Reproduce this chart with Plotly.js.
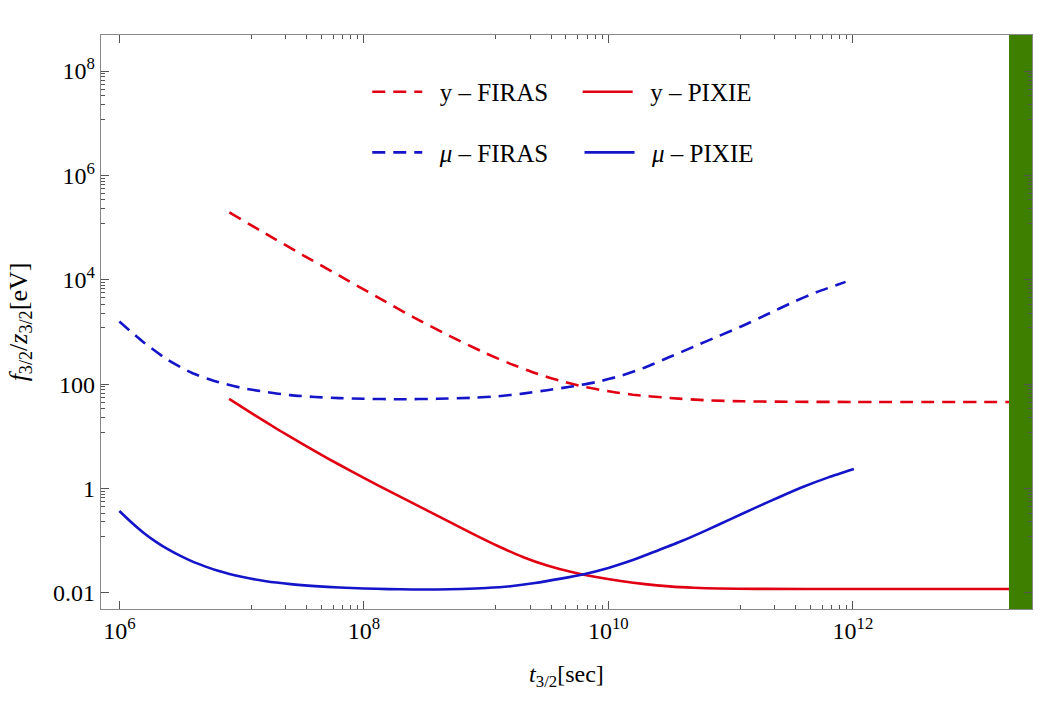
<!DOCTYPE html>
<html><head><meta charset="utf-8">
<script src="https://cdn.plot.ly/plotly-3.0.1.min.js"></script>
<style>body{margin:0;background:#fff}</style>
</head><body><div id="chart" style="width:1041px;height:706px"></div>
<script>
// Values, stored as log10 exponents (t in sec, f/z in eV)
const muFirasLogT = [6.0, 6.2, 6.4, 6.6, 6.8, 7.0, 7.2, 7.4, 7.6, 7.8, 8.0, 8.3, 8.6, 8.9, 9.1, 9.3, 9.5, 9.7, 9.9, 10.1, 10.3, 10.5, 10.7, 10.9, 11.1, 11.3, 11.5, 11.7, 11.94];
const muFirasLogF = [3.20, 2.80, 2.46, 2.21, 2.045, 1.93, 1.85, 1.79, 1.755, 1.733, 1.72, 1.712, 1.72, 1.74, 1.77, 1.82, 1.885, 1.955, 2.04, 2.16, 2.32, 2.52, 2.72, 2.92, 3.12, 3.34, 3.56, 3.76, 3.96];

const yFirasLogT = [6.9, 7.2, 7.5, 7.8, 8.1, 8.4, 8.7, 9.0, 9.2, 9.4, 9.6, 9.8, 10.0, 10.2, 10.5, 10.8, 11.1, 11.5, 12.0, 13.277];
const yFirasLogF = [5.29, 4.88, 4.475, 4.078, 3.682, 3.29, 2.925, 2.59, 2.39, 2.215, 2.069, 1.952, 1.864, 1.799, 1.736, 1.692, 1.672, 1.663, 1.66, 1.66];

const yPixieLogT = [6.898, 7.1, 7.3, 7.5, 7.7, 7.9, 8.1, 8.3, 8.5, 8.7, 8.9, 9.1, 9.3, 9.5, 9.7, 9.9, 10.1, 10.3, 10.5, 10.7, 10.9, 11.2, 12.0, 13.277];
const yPixieLogF = [1.72, 1.417, 1.127, 0.851, 0.585, 0.329, 0.081, -0.159, -0.397, -0.637, -0.877, -1.105, -1.31, -1.475, -1.60, -1.695, -1.77, -1.83, -1.873, -1.90, -1.915, -1.921, -1.923, -1.923];

const muPixieLogT = [6.0, 6.1, 6.2, 6.3, 6.4, 6.5, 6.6, 6.7, 6.8, 6.9, 7.0, 7.2, 7.4, 7.6, 7.8, 8.0, 8.2, 8.4, 8.6, 8.8, 9.0, 9.2, 9.4, 9.6, 9.8, 10.0, 10.2, 10.4, 10.6, 10.8, 11.0, 11.2, 11.4, 11.6, 11.8, 12.008];
const muPixieLogF = [-0.43, -0.65, -0.85, -1.02, -1.165, -1.29, -1.40, -1.49, -1.57, -1.635, -1.69, -1.775, -1.83, -1.868, -1.895, -1.913, -1.926, -1.933, -1.933, -1.924, -1.905, -1.87, -1.81, -1.73, -1.64, -1.52, -1.37, -1.19, -1.005, -0.80, -0.585, -0.37, -0.16, 0.04, 0.215, 0.375];

// shaded region (green band), log10 bounds
const bandLogT = [13.277, 14.5];
const bandLogF = [-5, 12];

// tick labels
const xTickExp = [6, 8, 10, 12];
const yTickVals = [0.01, 1, 100, 1e4, 1e6, 1e8];
const yTickText = ['0.01', '1', '100', '10<sup>4</sup>', '10<sup>6</sup>', '10<sup>8</sup>'];
const minorMult = [1.2, 2.3, 3.4, 4.5, 5.6, 6.7, 7.8, 8.9];
const xMinorDecades = [7, 9, 11];
const yMinorDecades = [-1, 1, 3, 5, 7];

const p10 = v => Math.pow(10, v);
const RED = '#e00012', BLUE = '#1414c8', GREEN = '#3f7f00';
const serif = '"Liberation Serif", "DejaVu Serif", serif';

const xMinor = [], yMinor = [];
xMinorDecades.forEach(d => minorMult.forEach(k => xMinor.push(k * p10(d))));
yMinorDecades.forEach(d => minorMult.forEach(k => yMinor.push(k * p10(d))));

const sp = '\u00a0\u00a0';
const traces = [
  {x: [p10(bandLogT[0]), p10(bandLogT[1]), p10(bandLogT[1]), p10(bandLogT[0])],
   y: [p10(bandLogF[0]), p10(bandLogF[0]), p10(bandLogF[1]), p10(bandLogF[1])],
   mode: 'lines', fill: 'toself', fillcolor: GREEN, line: {width: 0, color: GREEN},
   showlegend: false, hoverinfo: 'skip'},
  {name: sp + 'y – FIRAS', x: yFirasLogT.map(p10), y: yFirasLogF.map(p10), mode: 'lines',
   line: {color: RED, width: 2.6, dash: '13px,8px', shape: 'spline', smoothing: 0.6}, legend: 'legend'},
  {name: sp + 'y – PIXIE', x: yPixieLogT.map(p10), y: yPixieLogF.map(p10), mode: 'lines',
   line: {color: RED, width: 2.6, shape: 'spline', smoothing: 0.6}, legend: 'legend2'},
  {name: sp + '<i>μ</i> – FIRAS', x: muFirasLogT.map(p10), y: muFirasLogF.map(p10), mode: 'lines',
   line: {color: BLUE, width: 2.6, dash: '13px,8px', shape: 'spline', smoothing: 0.6}, legend: 'legend3'},
  {name: sp + '<i>μ</i> – PIXIE', x: muPixieLogT.map(p10), y: muPixieLogF.map(p10), mode: 'lines',
   line: {color: BLUE, width: 2.6, shape: 'spline', smoothing: 0.6}, legend: 'legend4'}
];

const legBase = {orientation: 'v', xanchor: 'left', yanchor: 'middle', bgcolor: 'rgba(0,0,0,0)',
  borderwidth: 0, itemwidth: 50, font: {family: serif, size: 25, color: '#000'}};

const axisCommon = {type: 'log', showline: true, linecolor: '#888', linewidth: 1.2, mirror: 'ticks',
  ticks: 'inside', ticklen: 8, tickcolor: '#555', tickwidth: 1, showgrid: false, zeroline: false,
  tickfont: {family: serif, size: 24, color: '#000'}, tickmode: 'array'};

const layout = {
  width: 1041, height: 706,
  margin: {l: 101, r: 9, t: 35, b: 97},
  paper_bgcolor: '#fff', plot_bgcolor: '#fff',
  showlegend: true,
  font: {family: serif},
  xaxis: Object.assign({}, axisCommon, {
    range: [5.85, 13.465],
    tickvals: xTickExp.map(p10),
    ticktext: xTickExp.map(e => '10<sup>' + e + '</sup>'),
    minor: {tickmode: 'array', tickvals: xMinor, ticks: 'inside', ticklen: 4, tickcolor: '#555'},
    title: {text: '<i>t</i><sub>3/2</sub>[sec]', font: {family: serif, size: 24, color: '#000'}, standoff: 22}
  }),
  yaxis: Object.assign({}, axisCommon, {
    range: [-2.307, 8.69],
    tickvals: yTickVals, ticktext: yTickText,
    minor: {tickmode: 'array', tickvals: yMinor, ticks: 'inside', ticklen: 4, tickcolor: '#555'},
    title: {text: '<i>f</i><sub>3/2</sub>/<i>z</i><sub>3/2</sub>[eV]', font: {family: serif, size: 26, color: '#000'}, standoff: 18}
  }),
  legend: Object.assign({}, legBase, {x: 0.286, y: 0.9007}),
  legend2: Object.assign({}, legBase, {x: 0.512, y: 0.9007}),
  legend3: Object.assign({}, legBase, {x: 0.286, y: 0.795}),
  legend4: Object.assign({}, legBase, {x: 0.514, y: 0.795})
};

Plotly.newPlot('chart', traces, layout, {displayModeBar: false, staticPlot: true});
</script></body></html>
